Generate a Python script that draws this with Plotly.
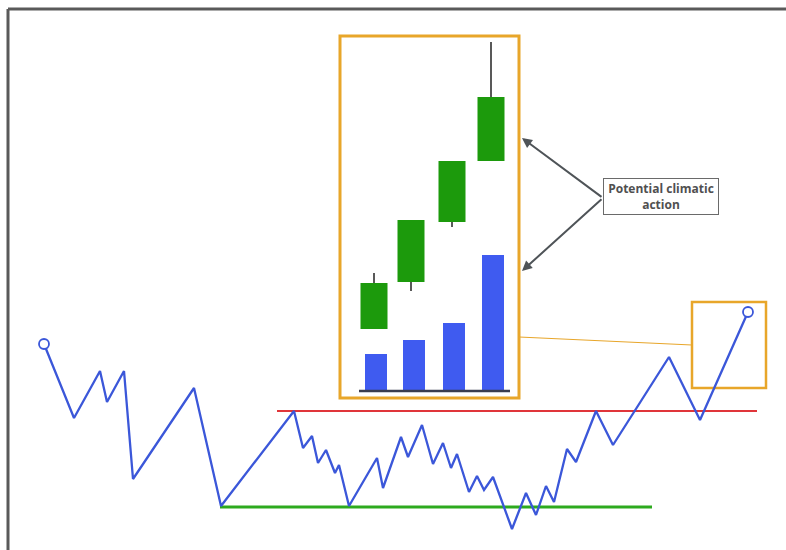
import plotly.graph_objects as go

# ---- data (illustration units: x = time position, y = price level, axis reversed) ----
line_x = [44, 74, 100, 107, 124, 133, 194, 221, 294, 303, 312, 318, 326, 335, 339, 349,
          377, 383, 401, 408, 422, 433, 443, 451, 457, 469, 477, 484, 493, 512, 526, 536,
          546, 554, 567, 576, 596, 613, 669, 700, 748]
line_y = [344, 418, 371, 402, 371, 479, 388, 506, 411, 448, 436, 463, 450, 473, 465, 506,
          458, 488, 437, 457, 425, 464, 443, 468, 454, 492, 476, 490, 477, 529, 493, 515,
          486, 502, 449, 462, 411, 445, 357, 420, 312]

resistance_x = [277, 757]
resistance_y = [411, 411]
support_x = [220, 652]
support_y = [507, 507]

candle_x = [374, 411, 452, 491]
candle_open = [329, 282, 222, 161]
candle_close = [283, 220, 161, 97]
candle_high = [273, 220, 161, 42]
candle_low = [329, 291, 227, 161]

vol_x = [376, 414, 454, 493]
vol_height = [37, 51, 68, 136]
vol_base = 391

note_text = "<b>Potential climatic<br>action</b>"

BLUE = "#3B57D9"
ORANGE = "#E8A62A"
GREEN_C = "#1C9A0C"
BAR_BLUE = "#3F5BF0"

fig = go.Figure()

# wicks (only the parts outside the bodies)
wx, wy = [], []
for x, o, c, h, l in zip(candle_x, candle_open, candle_close, candle_high, candle_low):
    top, bot = min(o, c), max(o, c)
    if h < top:
        wx += [x, x, None]
        wy += [h, top, None]
    if l > bot:
        wx += [x, x, None]
        wy += [bot, l, None]
fig.add_trace(go.Scatter(x=wx, y=wy, mode="lines", line=dict(color="#222", width=1.5),
                         hoverinfo="skip"))
# candle bodies
fig.add_trace(go.Bar(x=candle_x, y=[c - o for o, c in zip(candle_open, candle_close)],
                     base=candle_open, width=27, marker=dict(color=GREEN_C, line=dict(width=0))))
# volume bars
fig.add_trace(go.Bar(x=vol_x, y=[-v for v in vol_height], base=[vol_base] * len(vol_x),
                     width=22, marker=dict(color=BAR_BLUE, line=dict(width=0))))
# volume baseline
fig.add_trace(go.Scatter(x=[359, 510], y=[vol_base, vol_base], mode="lines",
                         line=dict(color="#3a3d4f", width=2.5), hoverinfo="skip"))

# support / resistance
fig.add_trace(go.Scatter(x=resistance_x, y=resistance_y, mode="lines",
                         line=dict(color="#E0353A", width=2), hoverinfo="skip"))
fig.add_trace(go.Scatter(x=support_x, y=support_y, mode="lines",
                         line=dict(color="#2DAA1E", width=3), hoverinfo="skip"))

# price path
fig.add_trace(go.Scatter(x=line_x, y=line_y, mode="lines", line=dict(color=BLUE, width=2.3),
                         hoverinfo="skip"))
fig.add_trace(go.Scatter(x=[line_x[0], line_x[-1]], y=[line_y[0], line_y[-1]], mode="markers",
                         marker=dict(size=10, color="white", line=dict(color=BLUE, width=1.8)),
                         hoverinfo="skip"))

shapes = [
    # outer frame (left and top edges visible)
    dict(type="line", x0=8, y0=9, x1=8, y1=550, line=dict(color="#5a5a5a", width=3), layer="below"),
    dict(type="line", x0=8, y0=9, x1=786, y1=9, line=dict(color="#5a5a5a", width=3), layer="below"),
    # inset box
    dict(type="rect", x0=340, y0=36, x1=519, y1=398, line=dict(color=ORANGE, width=3), layer="below"),
    # small box
    dict(type="rect", x0=692, y0=302, x1=766, y1=388, line=dict(color=ORANGE, width=2.5), layer="below"),
    # connector
    dict(type="line", x0=519, y0=337, x1=692, y1=345, line=dict(color=ORANGE, width=1), layer="below"),
]

annotations = [
    dict(x=661, y=196, xref="x", yref="y", text=note_text, showarrow=False,
         font=dict(family="Open Sans", size=12, color="#505050"),
         bordercolor="#6a6a6a", borderwidth=1, borderpad=1, bgcolor="white", width=112),
    dict(x=522, y=138, ax=603, ay=198, xref="x", yref="y", axref="x", ayref="y", text="",
         showarrow=True, arrowhead=2, arrowsize=1, arrowwidth=2, arrowcolor="#4f5458"),
    dict(x=522, y=271, ax=603, ay=198, xref="x", yref="y", axref="x", ayref="y", text="",
         showarrow=True, arrowhead=2, arrowsize=1, arrowwidth=2, arrowcolor="#4f5458"),
]

fig.update_layout(
    width=786, height=550,
    margin=dict(l=0, r=0, t=0, b=0),
    paper_bgcolor="white", plot_bgcolor="white",
    showlegend=False, barmode="overlay",
    shapes=shapes, annotations=annotations,
    xaxis=dict(range=[0, 786], visible=False, fixedrange=True),
    yaxis=dict(range=[550, 0], visible=False, fixedrange=True),
)

fig.write_html("out.html", config={"displayModeBar": False},
               post_script="document.body.style.margin='0';document.body.style.overflow='hidden';")
